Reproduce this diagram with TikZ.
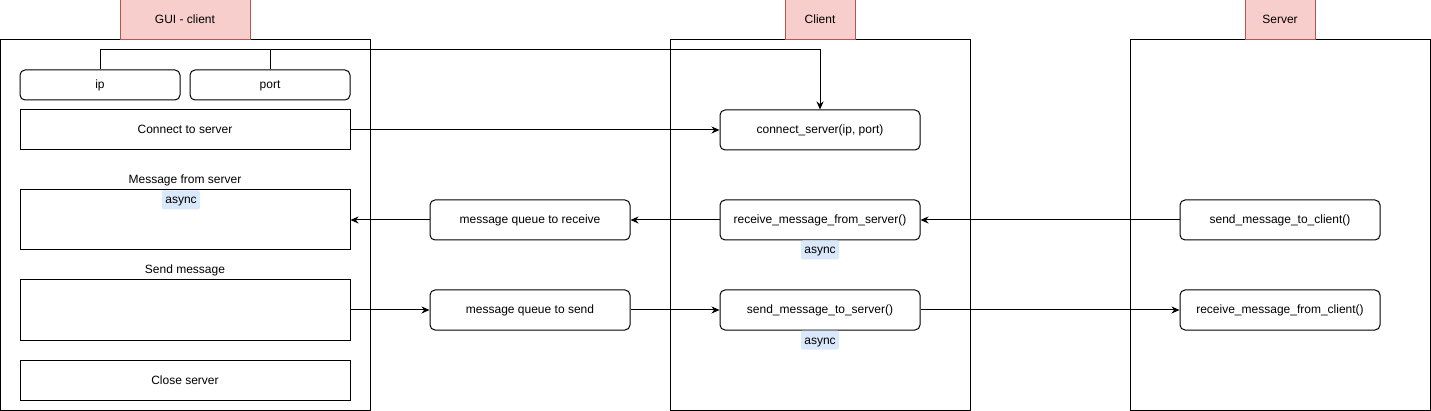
\documentclass[tikz,border=0pt]{standalone}
\usepackage{fontspec}
\setmainfont{Liberation Sans}
\usetikzlibrary{arrows.meta}

\definecolor{tabfill}{HTML}{F8CECC}
\definecolor{tabdraw}{HTML}{B85450}
\definecolor{tagfill}{HTML}{DAE8FC}

\tikzset{
  every node/.style={font=\fontsize{12}{14}\selectfont, inner sep=0pt, text height=10pt, text depth=2pt},
  panel/.style={draw, line width=1pt, minimum width=#1, minimum height=370},
  tab/.style={draw=tabdraw, fill=tabfill, line width=1pt, minimum width=#1, minimum height=40},
  field/.style={draw, line width=1pt, rounded corners=5pt, minimum width=#1, minimum height=30},
  plainbox/.style={draw, line width=1pt, minimum width=330, minimum height=#1},
  func/.style={draw, line width=1pt, rounded corners=5pt, minimum width=200, minimum height=40},
  tag/.style={fill=tagfill, rounded corners=2pt, minimum width=38, minimum height=19},
  arrow/.style={line width=1pt, -{Stealth[length=8pt,width=7pt]}}
}

\begin{document}
\begin{tikzpicture}[x=1pt,y=-1pt]
  \useasboundingbox (0,0) rectangle (1431,411);

  % panels and their titles
  \node[panel=370] (gui) at (185,225) {};
  \node[panel=300] (client) at (820,225) {};
  \node[panel=300] (server) at (1280,225) {};
  \node[tab=130] (guitab) at (185,20) {GUI - client};
  \node[tab=70] (clienttab) at (820,20) {Client};
  \node[tab=70] (servertab) at (1280,20) {Server};

  % GUI - client
  \node[field=160] (ip) at (100,85) {ip};
  \node[field=160] (port) at (270,85) {port};
  \node[plainbox=40] (connect) at (185,130) {Connect to server};
  \node (msginlabel) at (185,180) {Message from server};
  \node[plainbox=60] (msgin) at (185,220) {};
  \node[tag] (guiasync) at (181,200) {async};
  \node (sendlabel) at (185,270) {Send message};
  \node[plainbox=60] (sendbox) at (185,310) {};
  \node[plainbox=40] (close) at (185,380) {Close server};

  % queues
  \node[func] (qrecv) at (530,220) {message queue to receive};
  \node[func] (qsend) at (530,310) {message queue to send};

  % Client
  \node[func] (connsrv) at (820,130) {connect\_server(ip, port)};
  \node[func] (recvsrv) at (820,220) {receive\_message\_from\_server()};
  \node[tag] (recvasync) at (820,250) {async};
  \node[func] (sendsrv) at (820,310) {send\_message\_to\_server()};
  \node[tag] (sendasync) at (820,340) {async};

  % Server
  \node[func] (sendcli) at (1280,220) {send\_message\_to\_client()};
  \node[func] (recvcli) at (1280,310) {receive\_message\_from\_client()};

  % connectors
  \coordinate (bus) at (820,50);
  \draw[line width=1pt] (port.north) -- (port.north |- bus);
  \draw[arrow] (ip.north) |- (bus) -- (connsrv.north);
  \draw[arrow] (connect) -- (connsrv);
  \draw[arrow] (sendcli) -- (recvsrv);
  \draw[arrow] (recvsrv) -- (qrecv);
  \draw[arrow] (qrecv) -- (msgin);
  \draw[arrow] (sendbox) -- (qsend);
  \draw[arrow] (qsend) -- (sendsrv);
  \draw[arrow] (sendsrv) -- (recvcli);
\end{tikzpicture}
\end{document}
